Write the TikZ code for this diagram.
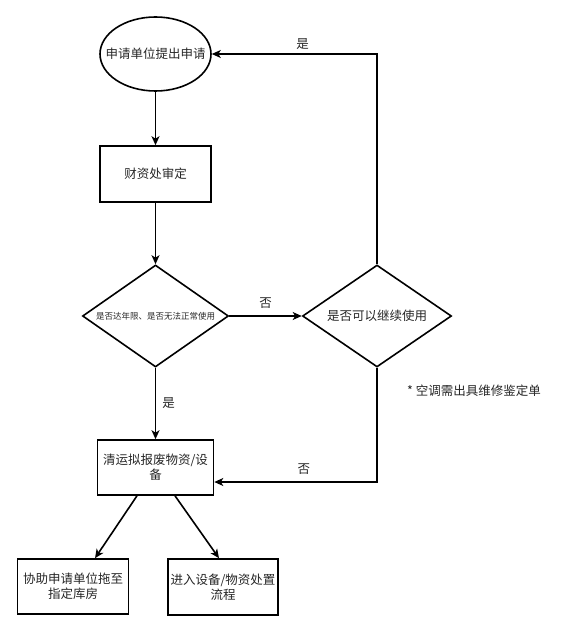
\documentclass[tikz,border=0pt]{standalone}
\usepackage{fontspec}
\setmainfont{Noto Sans CJK SC}
\usetikzlibrary{shapes.geometric,arrows.meta}
\tikzset{
  every node/.style={font=\fontsize{12.5}{15}\selectfont, text=black!85},
  shp/.style={draw, line width=1.6pt, inner sep=0pt},
  boxnode/.style={shp, rectangle, align=center},
  ellnode/.style={shp, ellipse, minimum width=111pt, minimum height=74pt},
  dianode/.style={shp, diamond, minimum width=148pt, minimum height=102pt},
  conn/.style={line width=1.6pt, -{Stealth[length=9pt,width=8pt,inset=2.5pt]}},
  lbl/.style={inner sep=0pt}
}
\begin{document}
\begin{tikzpicture}[x=1pt,y=-1pt]
\useasboundingbox (0,0) rectangle (570,628);
\node[ellnode] (start) at (155.5,54) {\makebox[0pt]{申请单位提出申请}};
\node[boxnode, minimum width=111pt, minimum height=56pt] (cz) at (155.5,174) {财资处审定};
\node[dianode, minimum width=146pt] (d1) at (155.5,316) {\makebox[0pt]{\fontsize{8.5}{10}\selectfont 是否达年限、是否无法正常使用}};
\node[dianode, minimum width=149pt] (d2) at (377,316) {\makebox[0pt]{是否可以继续使用}};
\node[boxnode, minimum width=116pt, minimum height=55pt] (qy) at (155.5,467.5) {清运拟报废物资/设\\备};
\node[boxnode, minimum width=111pt, minimum height=55pt] (xz) at (73,586.5) {协助申请单位拖至\\指定库房};
\node[boxnode, minimum width=110pt, minimum height=56pt] (jr) at (223,587) {进入设备/物资处置\\流程};
\node[lbl, anchor=west] (note) at (407,391) {* 空调需出具维修鉴定单};

\coordinate (tr) at (377,54);
\coordinate (br) at (377,482);

\draw[conn] (start) -- (cz);
\draw[conn] (cz) -- (d1);
\draw[conn] (d1) -- node[lbl, above=7pt] {否} (d2);
\draw[conn] (d1) -- node[lbl, pos=0.5, xshift=13pt] {是} (qy);
\draw[conn] (d2.north) -- (tr) -- node[lbl, above=4pt, pos=0.45] {是} (start.east);
\draw[conn] (d2.south) -- (br) -- node[lbl, above=7pt, pos=0.45] {否} (br -| qy.east);
\draw[conn] ([xshift=-18.5pt]qy.south) -- ([xshift=22pt]xz.north);
\draw[conn] ([xshift=19.5pt]qy.south) -- ([xshift=-4pt]jr.north);
\end{tikzpicture}
\end{document}
